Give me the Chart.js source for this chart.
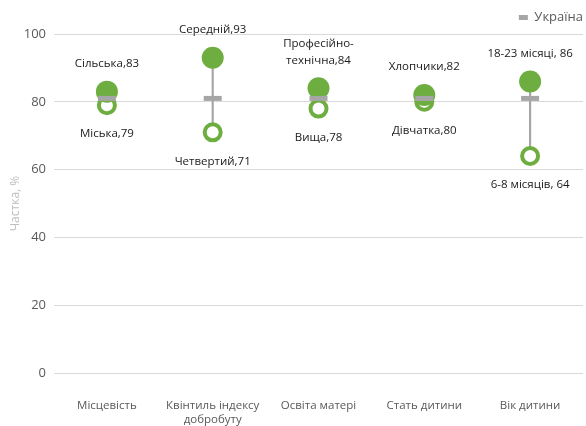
<!DOCTYPE html>
<html>
<head>
<meta charset="utf-8">
<script src="https://cdn.jsdelivr.net/npm/chart.js@4"></script>
<style>
  body { margin: 0; background: #fff; }
  #wrap { width: 586px; height: 426px; }
</style>
</head>
<body>
<div id="wrap"><canvas id="myChart" width="586" height="426"></canvas></div>
<script>
const categories = ["Місцевість", ["Квінтиль індексу", "добробуту"], "Освіта матері", "Стать дитини", "Вік дитини"];
const highNames = ["Сільська,", "Середній,", "Професійно-\nтехнічна,", "Хлопчики,", "18-23 місяці, "];
const highValues = [83, 93, 84, 82, 86];
const lowNames = ["Міська,", "Четвертий,", "Вища,", "Дівчатка,", "6-8 місяців, "];
const lowValues = [79, 71, 78, 80, 64];
const ukraineValues = [81, 81, 81, 81, 81];
const yTicks = [0, 20, 40, 60, 80, 100];

const green = "#6eae40";
const grey = "#a6a6a6";

// підписи над/під точками
const pointLabels = {
    id: "pointLabels",
    afterDatasetsDraw(chart) {
        const ctx = chart.ctx;
        ctx.save();
        ctx.font = "11.5px 'Open Sans', sans-serif";
        ctx.fillStyle = "#1a1a1a";
        ctx.textAlign = "center";
        ctx.textBaseline = "middle";
        chart.getDatasetMeta(2).data.forEach(function (pt, i) {
            const lines = (highNames[i] + highValues[i]).split("\n");
            let y = pt.y - 28 - (lines.length - 1) * 17;
            lines.forEach(function (t) { ctx.fillText(t, pt.x, y); y += 17; });
        });
        chart.getDatasetMeta(1).data.forEach(function (pt, i) {
            ctx.fillText(lowNames[i] + lowValues[i], pt.x, pt.y + 29);
        });
        ctx.restore();
    }
};

new Chart("myChart", {
    data: {
        labels: categories,
        datasets: [
            {
                type: "bar",
                label: "range",
                data: highValues.map(function (h, i) { return [lowValues[i], h]; }),
                backgroundColor: grey,
                barThickness: 1.5,
                order: 4
            },
            {
                type: "line",
                label: "low",
                data: lowValues,
                showLine: false,
                pointRadius: 8,
                pointBorderWidth: 4,
                pointBackgroundColor: "#ffffff",
                pointBorderColor: green,
                order: 3
            },
            {
                type: "line",
                label: "high",
                data: highValues,
                showLine: false,
                pointRadius: 11,
                pointBorderWidth: 0,
                pointBackgroundColor: green,
                pointBorderColor: green,
                order: 2
            },
            {
                type: "line",
                label: "Україна",
                data: ukraineValues,
                showLine: false,
                pointStyle: "line",
                pointRadius: 9,
                pointBorderWidth: 5,
                pointBorderColor: grey,
                pointBackgroundColor: grey,
                borderColor: grey,
                borderWidth: 4,
                backgroundColor: grey,
                order: 1
            }
        ]
    },
    options: {
        responsive: false,
        animation: false,
        layout: { autoPadding: false, padding: { left: 8, right: -3, top: 5, bottom: 0 } },
        plugins: {
            tooltip: { enabled: false },
            legend: {
                position: "top",
                align: "end",
                labels: {
                    filter: function (item) { return item.text === "Україна"; },
                    usePointStyle: true,
                    pointStyle: "line",
                    pointStyleWidth: 9,
                    color: "#595959",
                    font: { family: "'Open Sans', sans-serif", size: 13 },
                    padding: 6
                }
            }
        },
        scales: {
            x: {
                offset: true,
                grid: { display: false },
                border: { display: false },
                afterFit: function (axis) {
                    axis.height = 53;
                    axis.paddingLeft = 0;
                    axis.paddingRight = 0;
                },
                ticks: {
                    color: "#595959",
                    font: { family: "'Open Sans', sans-serif", size: 11.5 },
                    maxRotation: 0,
                    padding: 18
                }
            },
            y: {
                min: 0,
                max: 100,
                afterBuildTicks: function (axis) {
                    axis.ticks = yTicks.map(function (v) { return { value: v }; });
                },
                afterFit: function (axis) { axis.width = 46; },
                grid: { color: "#d9d9d9", drawTicks: false },
                border: { display: false },
                ticks: {
                    color: "#595959",
                    font: { family: "'Open Sans', sans-serif", size: 13 },
                    padding: 8
                },
                title: {
                    display: true,
                    text: "Частка, %",
                    color: "#bfbfbf",
                    font: { family: "'Open Sans', sans-serif", size: 12 },
                    padding: 0
                }
            },
            // порожня права вісь лише для відступу
            yRight: {
                position: "right",
                min: 0,
                max: 100,
                grid: { display: false },
                border: { display: false },
                ticks: { display: false },
                afterFit: function (axis) { axis.width = 6; }
            }
        }
    },
    plugins: [pointLabels]
});
</script>
</body>
</html>
